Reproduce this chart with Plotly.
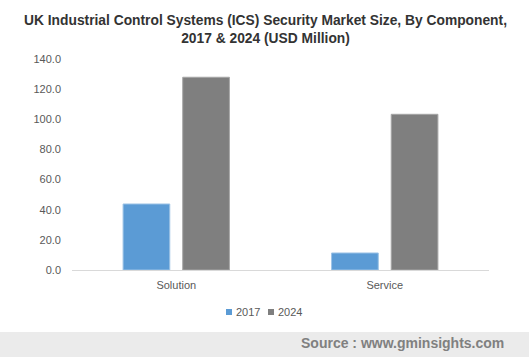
import plotly.graph_objects as go

categories = ["Solution", "Service"]
years = ["2017", "2024"]
values_2017 = [43.8, 11.3]
values_2024 = [127.9, 103.3]
y_ticks = [0, 20, 40, 60, 80, 100, 120, 140]
colors = ["#5B9BD5", "#7F7F7F"]

W, H = 529, 357
# plot area in window pixels: x 72..489, y 59..270
L, T = 72, 59
R, B = W - 489, H - 270
plot_h = H - T - B
plot_w = W - L - R

fig = go.Figure()
fig.add_trace(go.Bar(x=categories, y=values_2017, name=years[0],
                     marker=dict(color=colors[0], line=dict(color="#9DC3E6", width=1))))
fig.add_trace(go.Bar(x=categories, y=values_2024, name=years[1],
                     marker=dict(color=colors[1], line=dict(color="#A6A6A6", width=1))))

def py(pix):
    return (270 - pix) / plot_h

def px(pix):
    return (pix - 72) / plot_w

fig.update_layout(
    width=W, height=H,
    margin=dict(l=L, r=R, t=T, b=B, pad=0, autoexpand=False),
    paper_bgcolor="white", plot_bgcolor="white",
    font=dict(family="Liberation Sans, Arial, sans-serif", color="#595959", size=11),
    barmode="group", bargap=0.428, bargroupgap=0.217,
    title=dict(text="UK Industrial Control Systems (ICS) Security Market Size, By Component,<br>2017 &amp; 2024 (USD Million)",
               x=265.5 / W, xref="container", xanchor="center",
               y=1 - 25 / H, yref="container", yanchor="middle",
               font=dict(family="Liberation Sans, Arial, sans-serif", size=13.8, color="#333333", weight="bold")),
    xaxis=dict(showline=True, linecolor="#D9D9D9", linewidth=1, ticks="", showgrid=False,
               ticklabelstandoff=5,
               tickfont=dict(size=11, color="#595959")),
    yaxis=dict(range=[0, 140], tickvals=y_ticks, ticktext=[f"{v:.1f}" for v in y_ticks],
               showgrid=False, zeroline=False, showline=False, ticks="",
               ticklabelstandoff=10,
               tickfont=dict(size=11, color="#595959")),
    showlegend=False,
)

# custom compact legend
legend_items = [(226, years[0], colors[0]), (268, years[1], colors[1])]
for x0, label, col in legend_items:
    fig.add_shape(type="rect", xref="paper", yref="paper",
                  x0=px(x0), x1=px(x0 + 6), y0=py(315), y1=py(309),
                  fillcolor=col, line=dict(width=0))
    fig.add_annotation(text=label, xref="paper", yref="paper",
                       x=px(x0 + 7.5), y=py(312), xanchor="left", yanchor="middle", showarrow=False,
                       font=dict(size=11, color="#595959"))

fig.add_shape(type="rect", xref="paper", yref="paper",
              x0=px(0), x1=px(W), y0=py(H), y1=py(332),
              fillcolor="#EBEBEB", line=dict(width=0), layer="below")
fig.add_annotation(text="<b>Source : www.gminsights.com</b>", xref="paper", yref="paper",
                   x=px(506), y=py(343), xanchor="right", yanchor="middle", showarrow=False,
                   font=dict(family="Liberation Sans, Arial, sans-serif", size=14, color="#808080"))

fig.write_html("out.html", config={"displayModeBar": False},
               post_script="document.body.style.margin='0';document.body.style.overflow='hidden';")
